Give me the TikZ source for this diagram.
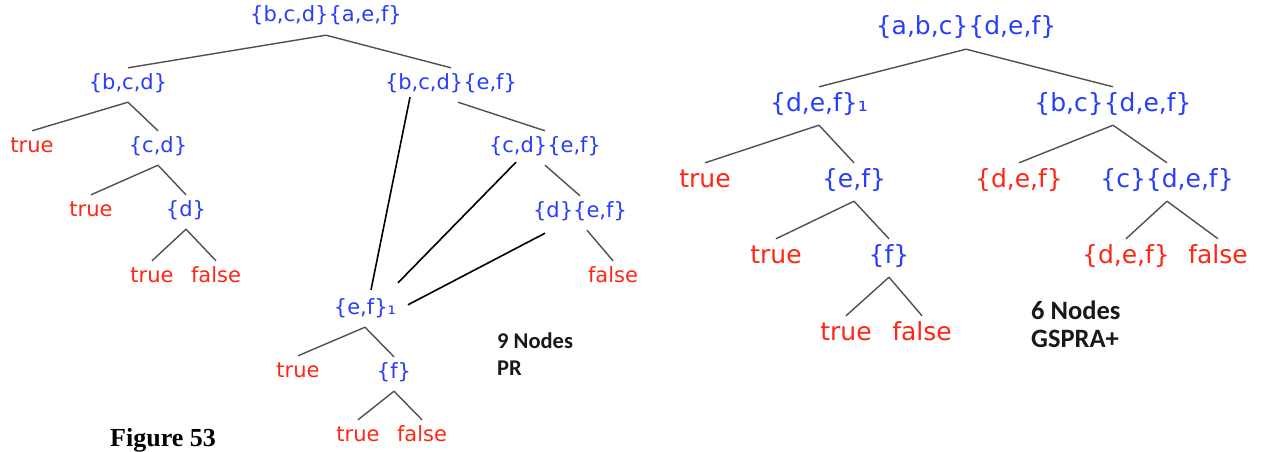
\documentclass[tikz,border=0pt]{standalone}
\usepackage{fontspec}
\setmainfont{DejaVu Sans}
\newfontfamily\calib{Carlito}
\newfontfamily\timesf{Liberation Serif}
\definecolor{setblue}{RGB}{40,62,250}
\definecolor{leafred}{RGB}{255,38,20}
\definecolor{edgegray}{RGB}{80,80,80}
\begin{document}
\begin{tikzpicture}[x=1pt,y=-1pt,
 lnode/.style={font=\fontsize{21}{24}\selectfont, inner xsep=0pt, inner ysep=7pt, text height=14pt, text depth=6pt},
 rnode/.style={font=\fontsize{25}{28}\selectfont, inner xsep=0pt, inner ysep=7pt, text height=17pt, text depth=7pt},
 setb/.style={text=setblue}, leaf/.style={text=leafred},
 edge/.style={draw=edgegray, line width=1.4pt},
 cross/.style={draw=black, line width=1.6pt},
 lnote/.style={font=\calib\bfseries\fontsize{22.5}{24}\selectfont, anchor=west, inner sep=0pt, text=black!90},
 rnote/.style={font=\calib\bfseries\fontsize{26.5}{28}\selectfont, anchor=west, inner sep=0pt, text=black!90}]
\useasboundingbox[fill=white] (0,0) rectangle (1262,452);
% ---------- left tree (PR)
\node[lnode,setb] (L0) at (326,18) {\{b,c,d\}\{a,e,f\}};
\node[lnode,setb] (L1) at (128,85) {\{b,c,d\}};
\node[lnode,setb] (L2) at (451,85) {\{b,c,d\}\{e,f\}};
\node[lnode,leaf] (L3) at (32,148) {true};
\node[lnode,setb] (L4) at (158,148) {\{c,d\}};
\node[lnode,setb] (L5) at (545,148) {\{c,d\}\{e,f\}};
\node[lnode,leaf] (L6) at (91,212) {true};
\node[lnode,setb] (L7) at (186,212) {\{d\}};
\node[lnode,setb] (L8) at (580,213) {\{d\}\{e,f\}};
\node[lnode,leaf] (L9) at (152,278) {true};
\node[lnode,leaf] (L10) at (216,278) {false};
\node[lnode,leaf] (L11) at (613,278) {false};
\node[lnode,setb] (L12) at (365,310) {\{e,f\}₁};
\node[lnode,leaf] (L13) at (298,373) {true};
\node[lnode,setb] (L14) at (394,374) {\{f\}};
\node[lnode,leaf] (L15) at (358,437) {true};
\node[lnode,leaf] (L16) at (422,437) {false};
\draw[edge] (L0.south) -- (L1.north);
\draw[edge] (L0.south) -- (L2.north);
\draw[edge] (L1.south) -- (L3.north);
\draw[edge] (L1.south) -- (L4.north);
\draw[edge] (L4.south) -- (L6.north);
\draw[edge] (L4.south) -- (L7.north);
\draw[edge] (L7.south) -- (L9.north);
\draw[edge] (L7.south) -- (L10.north);
\draw[edge] ([xshift=7pt]L2.south) -- (L5.north);
\draw[edge] (L5.south) -- (L8.north);
\draw[edge] ([xshift=7pt]L8.south) -- (L11.north);
\draw[edge] (L12.south) -- (L13.north);
\draw[edge] (L12.south) -- (L14.north);
\draw[edge] (L14.south) -- (L15.north);
\draw[edge] (L14.south) -- (L16.north);
\draw[cross] ([xshift=-41pt,yshift=5pt]L2.south) -- ([xshift=6pt,yshift=3pt]L12.north);
\draw[cross] ([xshift=-29pt,yshift=3pt]L5.south) -- ([xshift=33pt,yshift=10pt]L12.north);
\draw[cross] ([xshift=-35pt,yshift=-3pt]L8.south) -- ([xshift=43pt,yshift=-12pt]L12.north);
\node[lnote] (N1) at (497,341) {9 Nodes};
\node[lnote] (N2) at (497,368) {PR};
\node[anchor=west, inner sep=0pt, font=\timesf\bfseries\fontsize{26}{28}\selectfont] (FIG) at (110,440) {Figure 53};
% ---------- right tree (GSPRA+)
\node[rnode,setb] (R0) at (966,30) {\{a,b,c\}\{d,e,f\}};
\node[rnode,setb] (R1) at (819,106) {\{d,e,f\}₁};
\node[rnode,setb] (R2) at (1113,106) {\{b,c\}\{d,e,f\}};
\node[rnode,leaf] (R3) at (705,182) {true};
\node[rnode,setb] (R4) at (854,182) {\{e,f\}};
\node[rnode,leaf] (R5) at (1019,182) {\{d,e,f\}};
\node[rnode,setb] (R6) at (1167,182) {\{c\}\{d,e,f\}};
\node[rnode,leaf] (R7) at (776,258) {true};
\node[rnode,setb] (R8) at (889,258) {\{f\}};
\node[rnode,leaf] (R9) at (1126,258) {\{d,e,f\}};
\node[rnode,leaf] (R10) at (1218,258) {false};
\node[rnode,leaf] (R11) at (846,335) {true};
\node[rnode,leaf] (R12) at (922,335) {false};
\draw[edge] (R0.south) -- (R1.north);
\draw[edge] (R0.south) -- (R2.north);
\draw[edge] (R1.south) -- (R3.north);
\draw[edge] (R1.south) -- (R4.north);
\draw[edge] (R2.south) -- (R5.north);
\draw[edge] (R2.south) -- (R6.north);
\draw[edge] (R4.south) -- (R7.north);
\draw[edge] (R4.south) -- (R8.north);
\draw[edge] (R6.south) -- (R9.north);
\draw[edge] (R6.south) -- (R10.north);
\draw[edge] (R8.south) -- (R11.north);
\draw[edge] (R8.south) -- (R12.north);
\node[rnote] (N3) at (1031,310) {6 Nodes};
\node[rnote] (N4) at (1031,339) {GSPRA+};
\end{tikzpicture}
\end{document}
